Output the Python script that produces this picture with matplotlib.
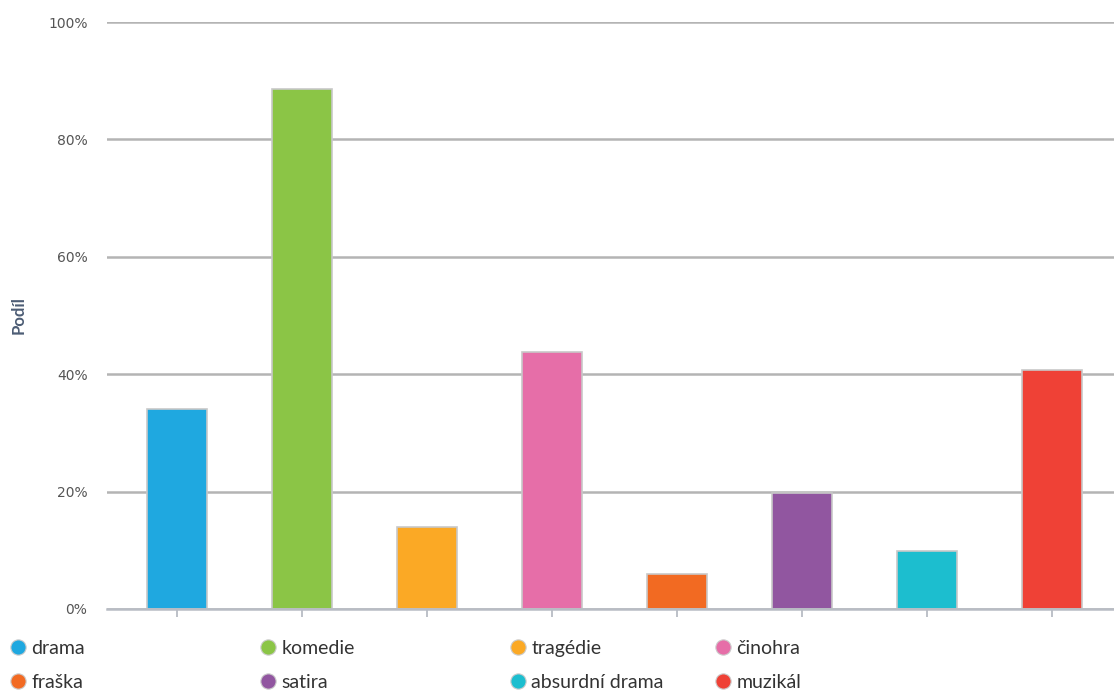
import matplotlib
matplotlib.use("Agg")
import matplotlib.pyplot as plt
from matplotlib.lines import Line2D

# data
categories = ["drama", "komedie", "tragédie", "činohra",
              "fraška", "satira", "absurdní drama", "muzikál"]
shares = [34.0, 88.6, 14.0, 43.8, 6.0, 19.8, 9.9, 40.7]
colors = ["#1fa8e0", "#8bc546", "#fba925", "#e66ea8",
          "#f26a22", "#9156a0", "#1cbecf", "#ef4136"]
yticks = [0, 20, 40, 60, 80, 100]

plt.rcParams['font.family'] = ['Lato', 'DejaVu Sans']

fig = plt.figure(figsize=(11.14, 6.9), dpi=100)
ax = fig.add_axes([0.096, 0.1174, 0.904, 0.8506])

x = list(range(len(categories)))
ax.bar(x, shares, width=0.48, color=colors, edgecolor="#c8c8c8",
       linewidth=1.2, zorder=3)

ax.set_ylim(0, 100)
ax.set_xlim(-0.5 - 8 / 125, len(categories) - 0.5)
ax.set_yticks(yticks)
ax.set_yticklabels([f"{v}%" for v in yticks], fontsize=10, color="#555555",
                   family=['DejaVu Sans'])
ax.set_xticks(x)
ax.set_xticklabels([])
ax.tick_params(axis='y', length=0, pad=14)
ax.tick_params(axis='x', length=6, width=1.3, color="#b8bcc4", direction='out')

ax.grid(axis='y', color="#b4b4b4", linewidth=1.8, zorder=0)
for s in ["top", "right", "left"]:
    ax.spines[s].set_visible(False)
ax.spines["bottom"].set_color("#b8bcc4")
ax.spines["bottom"].set_linewidth(1.8)
ax.spines["bottom"].set_zorder(4)

ax.set_ylabel("Podíl", fontsize=12, fontweight='bold', color="#4d5d75")
ax.yaxis.set_label_coords(-0.08, 0.5)

# legend: 4 columns, 2 rows
handles = [Line2D([], [], marker='o', linestyle='', markersize=11,
                  markerfacecolor=c, markeredgecolor="#cccccc",
                  markeredgewidth=0.8, label=lab)
           for c, lab in zip(colors, categories)]
col_x = [20, 270, 520, 725]
ncol = 4
for c in range(ncol):
    fig.legend(handles=handles[c::ncol], loc='upper left',
               bbox_to_anchor=((col_x[c] - 12) / 1114, 1 - 640 / 690),
               frameon=False, fontsize=14, handletextpad=0.2,
               handlelength=1.0, labelspacing=0.85, borderpad=0,
               borderaxespad=0, labelcolor="#333333")

fig.savefig("out.png", dpi=100)
